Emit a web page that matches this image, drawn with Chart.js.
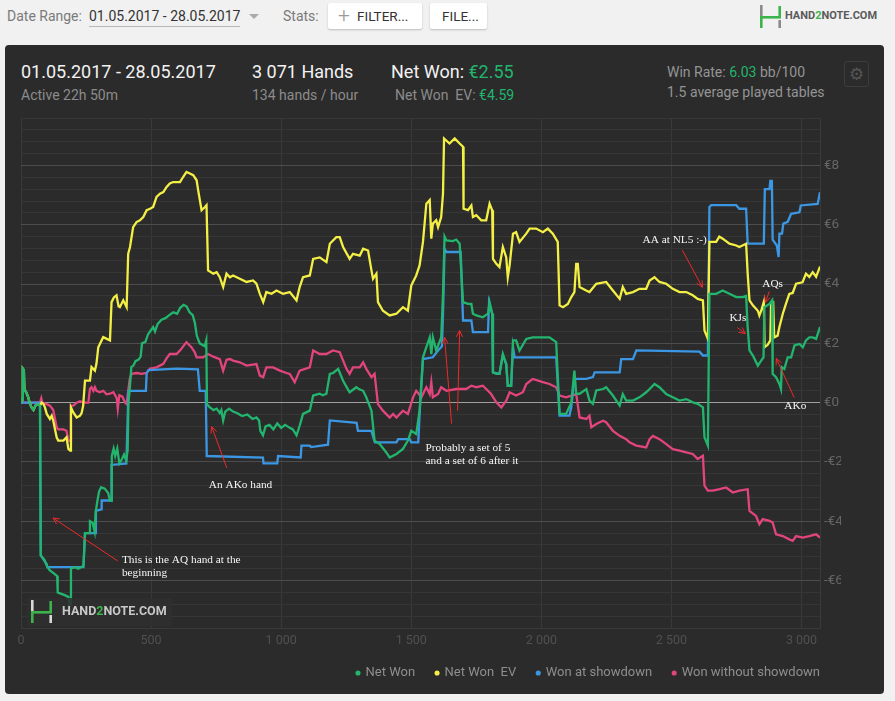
<!DOCTYPE html>
<html>
<head>
<meta charset="utf-8">
<script src="https://cdn.jsdelivr.net/npm/chart.js@4.4.1/dist/chart.umd.min.js"></script>
<style>
  html, body { margin: 0; padding: 0; }
  body { width: 895px; height: 701px; background: #f1f1f1; position: relative; overflow: hidden;
         font-family: Roboto, "Noto Sans", sans-serif; }
  .abs { position: absolute; white-space: nowrap; }
  .lbl { font-size: 14px; line-height: 18px; color: #7a7a7a; }
  .btn { background: #fff; border-radius: 2px; box-shadow: 0 1px 2px rgba(0,0,0,0.22); height: 26px; top: 3px; }
  .btn span { position: absolute; font-size: 13.5px; line-height: 26px; color: #333; }
  .panel { left: 5px; top: 45px; width: 879px; height: 649px; background: #2b2b2b; border-radius: 4px; }
  .big { font-size: 18px; line-height: 22px; color: #f2f2f2; }
  .small { font-size: 14px; line-height: 18px; color: #8c8c8c; }
  .g { color: #22b56d; }
  #wrap { position: absolute; left: 5px; top: 100px; width: 879px; height: 600px; }
</style>
</head>
<body>
<!-- top bar -->
<div class="abs lbl" style="left:7px;top:7px;">Date Range:</div>
<div class="abs lbl" style="left:89px;top:7px;height:19px;color:#333;border-bottom:1px solid #b8b8b8;">01.05.2017 - 28.05.2017</div>
<div class="abs" style="left:249px;top:14px;width:0;height:0;border-left:5px solid transparent;border-right:5px solid transparent;border-top:5px solid #aaa;"></div>
<div class="abs lbl" style="left:283px;top:7px;">Stats:</div>
<div class="abs btn" style="left:328px;width:94px;">
  <span style="left:10px;font-size:21px;font-weight:300;color:#999;line-height:25px;">+</span>
  <span style="left:29px;">FILTER...</span>
</div>
<div class="abs btn" style="left:430px;width:57px;"><span style="left:12px;">FILE...</span></div>
<canvas id="toplogo" class="abs" width="24" height="24" style="left:758px;top:4px;"></canvas>
<div class="abs" style="left:785px;top:8px;font-size:11px;line-height:16px;font-weight:700;color:#5a5a5a;">HAND<span style="color:#3cb44b;">2</span>NOTE.COM</div>

<!-- dark panel -->
<div class="abs panel"></div>
<div class="abs big" style="left:21px;top:61px;">01.05.2017 - 28.05.2017</div>
<div class="abs small" style="left:21px;top:86px;">Active 22h 50m</div>
<div class="abs big" style="left:252px;top:61px;">3 071 Hands</div>
<div class="abs small" style="left:252px;top:86px;">134 hands / hour</div>
<div class="abs big" style="left:391px;top:61px;">Net Won: <span class="g">€2.55</span></div>
<div class="abs small" style="left:395px;top:86px;">Net Won&nbsp;&nbsp;EV: <span class="g">€4.59</span></div>
<div class="abs small" style="left:667px;top:63px;color:#949494;">Win Rate: <span class="g">6.03</span> bb/100</div>
<div class="abs small" style="left:667px;top:83px;color:#949494;">1.5 average played tables</div>
<div class="abs" style="left:844px;top:61px;width:23px;height:24px;border:1px solid #3d3d3d;border-radius:3px;text-align:center;font-size:17px;line-height:24px;color:#555;font-family:'DejaVu Sans';">⚙</div>

<div id="wrap"><canvas id="chart"></canvas></div>

<script>
// series: [hand, euro]
const netWon = [
  [0,0],[4,0.1],[7,1.15],[11,1.1],[13,0.45],[20,0.35],[27,0.2],[33,0.0],[40,-0.15],[48,-0.25],[56,-0.1],[64,-0.05],[73,-0.1],
  [76,-5.15],[90,-5.3],[99,-5.5],[110,-5.65],[125,-5.75],[139,-5.85],[141,-6.4],[155,-6.45],[170,-6.5],[182,-6.55],[186,-6.85],
  [190,-6.8],[192,-5.6],[205,-5.55],[220,-5.6],[240,-5.5],[246,-4.4],[262,-4.4],[265,-4.0],[275,-4.05],[283,-4.35],[287,-3.7],
  [293,-3.35],[300,-3.0],[308,-2.85],[322,-2.9],[335,-3.05],[342,-3.3],[347,-3.3],[349,-1.8],[356,-1.55],[362,-1.8],[370,-1.55],
  [378,-2.05],[388,-1.9],[396,-1.75],[404,-1.95],[410,-1.6],[413,0.0],[418,0.45],[424,1.2],[432,1.25],[440,1.4],[452,1.45],
  [460,1.55],[465,2.0],[478,2.05],[488,2.3],[500,2.45],[508,2.55],[515,2.4],[525,2.65],[540,2.8],[555,2.85],[570,2.95],
  [585,3.05],[600,3.0],[612,3.2],[625,3.3],[636,3.25],[648,3.05],[660,2.95],[668,2.7],[676,2.25],[687,2.0],[706,1.9],[712,2.1],
  [715,-0.05],[725,-0.15],[740,-0.25],[752,-0.2],[764,-0.35],[770,-0.25],[777,-0.6],[785,-0.3],[800,-0.2],[815,-0.3],[830,-0.35],
  [850,-0.45],[870,-0.4],[890,-0.55],[905,-0.5],[915,-0.6],[920,-0.95],[930,-1.1],[940,-0.8],[955,-0.75],[970,-0.9],[985,-0.7],
  [1000,-0.85],[1015,-0.75],[1033,-0.85],[1045,-0.9],[1059,-1.1],[1071,-0.78],[1084,-0.38],[1110,-0.27],[1123,0.24],[1148,0.3],
  [1160,0.25],[1174,0.3],[1187,0.97],[1200,1.0],[1219,1.14],[1238,0.74],[1250,0.55],[1263,0.35],[1289,0.52],[1300,0.45],
  [1315,0.4],[1327,0.18],[1347,-0.27],[1359,-1.28],[1379,-1.4],[1404,-1.68],[1417,-1.85],[1443,-1.73],[1468,-1.56],[1487,-1.28],
  [1500,-0.95],[1519,-1.06],[1532,-0.27],[1545,1.53],[1558,1.87],[1571,2.2],[1577,1.64],[1583,2.2],[1596,1.76],[1615,2.2],
  [1622,3.67],[1628,5.6],[1635,5.47],[1660,5.45],[1673,5.5],[1686,5.36],[1699,3.39],[1718,3.33],[1731,3.33],[1737,3.0],
  [1750,2.94],[1775,2.88],[1795,3.0],[1801,3.39],[1811,3.0],[1814,1.02],[1827,0.97],[1839,0.97],[1852,1.64],[1865,1.3],
  [1871,0.57],[1884,0.57],[1891,2.1],[1903,2.1],[1916,1.76],[1942,2.15],[1967,2.2],[2006,2.2],[2031,2.2],[2057,2.04],
  [2070,-0.38],[2095,-0.38],[2115,0.0],[2127,1.08],[2134,0.3],[2147,0.3],[2173,0.46],[2185,0.07],[2198,-0.04],[2211,0.41],
  [2237,0.46],[2249,0.52],[2275,0.24],[2301,-0.1],[2313,0.29],[2326,0.07],[2352,0.07],[2377,0.18],[2403,0.35],[2416,0.46],
  [2435,0.63],[2454,0.52],[2480,0.29],[2505,0.18],[2531,0.07],[2557,0.12],[2582,0.01],[2601,-0.04],[2621,-0.16],[2627,-1.17],
  [2640,-1.45],[2646,3.67],[2672,3.67],[2697,3.78],[2723,3.67],[2749,3.56],[2774,3.56],[2787,3.6],[2793,2.54],[2800,1.76],
  [2813,1.59],[2832,1.25],[2845,1.42],[2854,1.53],[2857,3.22],[2877,3.33],[2887,3.45],[2889,0.97],[2902,0.86],[2915,0.63],
  [2921,0.46],[2924,1.2],[2934,1.14],[2947,1.53],[2960,1.53],[2973,1.93],[2992,1.98],[3005,1.87],[3017,2.1],[3030,2.2],
  [3043,2.2],[3056,2.15],[3071,2.55]
];

const netWonEV = [
  [0,0],[4,0.1],[7,1.15],[11,1.1],[13,0.45],[20,0.35],[27,0.2],[33,0.0],[40,-0.15],[48,-0.25],[56,-0.1],[64,-0.05],[73,-0.1],
  [79,0.0],[86,-0.04],[92,-0.16],[99,-0.38],[111,-0.55],[118,-0.44],[124,-0.61],[137,-1.17],[143,-1.28],[163,-1.28],[175,-1.17],
  [182,-1.56],[189,-1.62],[192,-0.16],[201,-0.33],[214,-0.5],[227,-0.44],[233,-0.35],[239,-0.1],[246,0.74],[265,0.74],[271,1.2],
  [284,1.08],[290,1.31],[297,1.87],[310,2.1],[316,2.21],[330,2.15],[342,2.1],[348,3.39],[357,3.55],[367,3.62],[375,3.25],
  [380,3.22],[393,3.45],[406,3.22],[412,5.02],[419,5.25],[431,5.92],[444,6.09],[457,6.15],[470,6.26],[483,6.49],[496,6.54],
  [508,6.6],[521,6.94],[534,7.05],[547,7.1],[559,7.27],[572,7.39],[585,7.44],[611,7.44],[623,7.61],[636,7.78],[649,7.73],
  [662,7.67],[675,7.5],[681,7.16],[694,6.49],[707,6.6],[713,6.66],[719,4.46],[739,4.35],[752,4.4],[764,4.23],[777,3.9],
  [790,4.35],[803,4.23],[815,4.29],[841,4.18],[867,4.07],[892,4.12],[905,4.01],[918,3.67],[931,3.39],[943,3.73],[963,3.67],
  [982,3.78],[1007,3.67],[1033,3.73],[1059,3.45],[1071,3.9],[1084,4.23],[1110,4.29],[1123,4.85],[1148,4.9],[1174,4.74],
  [1187,5.36],[1212,5.58],[1225,5.58],[1238,5.25],[1263,4.85],[1276,5.02],[1302,4.96],[1315,5.19],[1334,5.13],[1347,4.46],
  [1353,4.18],[1366,4.35],[1372,3.39],[1391,3.1],[1417,2.94],[1443,3.0],[1468,3.22],[1487,3.1],[1500,3.95],[1519,4.29],
  [1532,4.63],[1545,5.42],[1558,6.71],[1571,6.83],[1577,5.53],[1583,6.04],[1596,6.15],[1603,5.92],[1615,6.26],[1622,7.05],
  [1626,8.91],[1647,8.74],[1667,8.91],[1686,8.74],[1699,8.63],[1701,6.54],[1718,6.49],[1731,6.65],[1737,6.26],[1750,6.32],
  [1769,6.15],[1788,6.15],[1801,6.71],[1811,6.49],[1814,4.85],[1827,4.68],[1839,4.57],[1852,5.25],[1865,4.9],[1871,4.23],
  [1878,4.63],[1891,5.7],[1903,5.75],[1916,5.42],[1942,5.7],[1955,5.87],[1980,5.87],[2006,5.75],[2025,5.87],[2044,5.7],
  [2063,5.42],[2070,3.28],[2083,3.22],[2102,3.33],[2115,3.56],[2127,3.73],[2134,4.68],[2140,4.68],[2147,3.9],[2172,3.78],
  [2185,3.73],[2211,4.01],[2249,4.07],[2275,3.78],[2301,3.5],[2313,3.9],[2326,3.67],[2352,3.73],[2377,3.84],[2403,3.84],
  [2416,4.12],[2435,4.23],[2454,4.07],[2480,4.01],[2505,3.84],[2531,3.73],[2557,3.73],[2582,3.62],[2601,3.5],[2621,3.45],
  [2627,2.43],[2640,2.15],[2646,5.42],[2672,5.42],[2684,5.6],[2697,5.53],[2723,5.36],[2749,5.3],[2761,5.25],[2787,5.36],
  [2793,4.35],[2800,3.45],[2813,3.28],[2832,3.1],[2838,2.94],[2845,3.1],[2855,3.4],[2858,1.87],[2870,1.95],[2880,2.1],
  [2883,3.39],[2891,3.39],[2895,2.2],[2908,2.26],[2915,2.55],[2928,3.0],[2940,3.33],[2953,3.67],[2966,3.7],[2979,4.01],
  [3004,4.06],[3017,4.35],[3030,4.24],[3043,4.4],[3056,4.24],[3071,4.59]
];

const wonShowdown = [
  [0,0],[73,0],[76,-5.15],[99,-5.45],[101,-5.55],[240,-5.55],[246,-4.4],[286,-4.4],[288,-3.65],[308,-3.6],[310,-3.3],
  [346,-3.3],[348,-2.1],[405,-2.05],[410,-0.5],[413,0.4],[480,0.4],[483,1.0],[490,1.1],[600,1.15],[680,1.12],[687,0.4],
  [710,0.4],[714,-1.8],[930,-1.85],[932,-2.05],[985,-2.05],[988,-1.8],[1075,-1.85],[1078,-1.45],[1110,-1.45],[1115,-1.5],
  [1180,-1.42],[1187,-0.6],[1290,-0.68],[1295,-0.95],[1347,-0.95],[1360,-1.34],[1443,-1.34],[1450,-1.23],[1494,-1.23],
  [1500,-1.34],[1527,-1.34],[1532,-0.4],[1545,1.47],[1583,1.53],[1603,1.76],[1618,1.9],[1622,3.0],[1628,5.19],[1635,5.08],
  [1690,5.08],[1699,2.77],[1731,2.77],[1737,2.38],[1795,2.38],[1799,3.39],[1811,3.0],[1814,1.02],[1839,0.97],[1852,1.6],
  [1865,1.3],[1871,0.57],[1884,0.57],[1891,1.87],[1897,1.53],[2057,1.53],[2070,-0.44],[2108,-0.44],[2115,-0.15],[2127,0.8],
  [2173,0.8],[2198,0.86],[2205,1.02],[2301,1.02],[2307,1.47],[2352,1.47],[2365,1.76],[2608,1.72],[2621,1.59],[2640,1.59],
  [2646,6.6],[2653,6.66],[2749,6.66],[2761,6.54],[2787,6.54],[2793,5.36],[2855,5.36],[2859,7.2],[2877,7.2],[2880,7.48],
  [2886,7.48],[2889,5.5],[2905,5.3],[2912,4.91],[2915,5.7],[2925,5.7],[2930,6.04],[2947,6.1],[2960,6.37],[2992,6.42],
  [2997,6.65],[3062,6.7],[3071,7.1]
];

const wonNoShowdown = [
  [0,0],[73,0],[78,0.15],[82,0.0],[99,-0.05],[111,-0.1],[124,-0.25],[137,-0.83],[143,-0.9],[163,-0.9],[175,-0.95],
  [182,-1.28],[190,-1.28],[192,-0.1],[201,-0.1],[214,0.0],[227,0.05],[239,0.0],[259,0.0],[265,0.47],[271,0.52],[278,0.4],
  [284,0.52],[290,0.4],[303,0.35],[316,0.4],[329,0.28],[342,0.3],[355,0.35],[368,0.15],[372,-0.2],[378,0.25],[390,0.2],
  [400,0.0],[406,-0.05],[412,0.4],[418,0.8],[425,0.97],[445,1.0],[463,0.97],[483,1.0],[496,1.15],[521,1.19],[547,1.31],
  [560,1.5],[572,1.64],[598,1.64],[615,1.8],[636,2.04],[655,1.87],[668,1.7],[675,1.53],[700,1.53],[719,1.64],[739,1.55],
  [764,1.47],[777,1.08],[790,1.45],[803,1.47],[815,1.42],[841,1.36],[867,1.25],[905,1.3],[918,0.91],[931,0.86],[943,1.19],
  [969,1.19],[995,1.08],[1020,1.0],[1033,0.97],[1052,0.69],[1071,1.08],[1110,1.19],[1123,1.76],[1148,1.64],[1174,1.64],
  [1199,1.76],[1225,1.7],[1251,1.14],[1263,0.97],[1276,1.19],[1302,1.19],[1315,1.36],[1327,1.14],[1347,0.86],[1359,0.97],
  [1372,-0.05],[1391,-0.27],[1417,-0.5],[1430,-0.38],[1443,-0.5],[1468,-0.27],[1487,-0.38],[1507,0.18],[1519,0.4],
  [1539,0.18],[1551,0.4],[1558,0.52],[1571,0.29],[1577,0.69],[1583,0.18],[1603,0.29],[1615,0.52],[1635,0.4],[1673,0.46],
  [1711,0.46],[1731,0.57],[1750,0.52],[1775,0.57],[1788,0.46],[1807,0.29],[1827,0.01],[1846,-0.16],[1865,0.07],[1878,0.35],
  [1903,0.24],[1929,0.35],[1942,0.63],[1967,0.8],[2006,0.69],[2031,0.63],[2057,0.52],[2070,0.24],[2095,0.18],[2134,0.29],
  [2147,-0.5],[2173,-0.55],[2185,-0.44],[2192,-0.83],[2211,-0.72],[2237,-0.61],[2249,-0.66],[2275,-0.95],[2301,-1.12],
  [2326,-1.23],[2339,-1.34],[2365,-1.45],[2403,-1.51],[2416,-1.23],[2429,-1.12],[2454,-1.23],[2480,-1.4],[2505,-1.57],
  [2531,-1.62],[2557,-1.68],[2582,-1.73],[2601,-1.9],[2621,-1.79],[2627,-2.8],[2640,-2.97],[2659,-2.97],[2685,-2.92],
  [2710,-2.86],[2736,-3.03],[2761,-2.97],[2793,-2.92],[2800,-3.65],[2825,-3.82],[2838,-4.1],[2851,-3.93],[2877,-3.99],
  [2889,-4.04],[2902,-4.44],[2928,-4.5],[2953,-4.61],[2966,-4.66],[2979,-4.5],[3005,-4.55],[3030,-4.5],[3056,-4.44],
  [3071,-4.55]
];

const seriesNames = ['Net Won', 'Net Won  EV', 'Won at showdown', 'Won without showdown'];
const seriesColors = ['#22b56d', '#f3ef44', '#3b97e3', '#e2457d'];
const handTicks = [0, 500, 1000, 1500, 2000, 2500, 3000];

// hand-written notes pasted on the screenshot (hand, euro)
const notes = [
  { lines: ['This is the AQ hand at the', 'beginning'], at: [388, -5.3], arrows: [[372, -5.34, 123, -3.89]] },
  { lines: ['An AKo hand'], at: [722, -2.77], arrows: [[791, -2.2, 733, -0.81]] },
  { lines: ['Probably a set of 5', 'and a set of 6 after it'], at: [1555, -1.52],
    arrows: [[1655, -0.71, 1628, 2.2], [1678, -0.27, 1686, 2.43]] },
  { lines: ['AA at NL5 :-)'], at: [2389, 5.5], arrows: [[2542, 5.14, 2619, 3.89]] },
  { lines: ['AQs'], at: [2849, 3.99], arrows: [[2876, 3.75, 2861, 3.38]] },
  { lines: ['KJs'], at: [2723, 2.87], arrows: [[2753, 2.53, 2784, 2.33]] },
  { lines: ['AKo'], at: [2934, -0.1], arrows: [[2972, 0.17, 2903, 1.49]] }
];

function drawLogo(ctx, x, y, light) {
  const green = '#3cb44b';
  ctx.fillStyle = light; ctx.fillRect(x, y, 2.6, 11);
  ctx.fillStyle = green; ctx.fillRect(x, y + 11, 2.6, 12);
  ctx.fillRect(x, y + 11, 21, 2.6);
  ctx.fillRect(x + 18.4, y + 1, 2.6, 12);
  ctx.fillStyle = light; ctx.fillRect(x + 18.4, y + 15, 2.6, 8);
}

const tl = document.getElementById('toplogo').getContext('2d');
drawLogo(tl, 2, 1, '#8a8a8a');

const isMajor = v => Math.abs(v / 2 - Math.round(v / 2)) < 1e-6;

const overlay = {
  id: 'overlay',
  afterDatasetsDraw(chart) {
    const { ctx, chartArea: a } = chart;
    ctx.save();
    ctx.fillStyle = 'rgba(47,47,47,0.88)';
    ctx.fillRect(a.left + 6, a.bottom - 30, 145, 28);
    drawLogo(ctx, a.left + 10, a.bottom - 28, '#d8d8d8');
    ctx.font = 'bold 12.5px Roboto';
    ctx.textBaseline = 'middle';
    let tx = a.left + 41;
    const ty = a.bottom - 16;
    for (const [t, c] of [['HAND', '#c8c8c8'], ['2', '#3cb44b'], ['NOTE.COM', '#c8c8c8']]) {
      ctx.fillStyle = c; ctx.fillText(t, tx, ty); tx += ctx.measureText(t).width;
    }
    ctx.restore();
  },
  afterDraw(chart) {
    const { ctx } = chart;
    const xs = chart.scales.x, ys = chart.scales.y;
    ctx.save();
    ctx.strokeStyle = '#ee2a2a';
    ctx.lineWidth = 1;
    for (const n of notes) {
      for (const [h1, v1, h2, v2] of n.arrows) {
        const x1 = xs.getPixelForValue(h1), y1 = ys.getPixelForValue(v1);
        const x2 = xs.getPixelForValue(h2), y2 = ys.getPixelForValue(v2);
        const ang = Math.atan2(y2 - y1, x2 - x1);
        ctx.beginPath();
        ctx.moveTo(x1, y1); ctx.lineTo(x2, y2);
        for (const d of [0.45, -0.45]) {
          ctx.moveTo(x2, y2);
          ctx.lineTo(x2 - 7 * Math.cos(ang + d), y2 - 7 * Math.sin(ang + d));
        }
        ctx.stroke();
      }
      ctx.font = '11.3px "Liberation Serif"';
      ctx.textBaseline = 'middle';
      ctx.fillStyle = '#f6f6f6';
      const x = xs.getPixelForValue(n.at[0]), y = ys.getPixelForValue(n.at[1]);
      n.lines.forEach((t, i) => ctx.fillText(t, x, y + i * 13));
    }
    ctx.restore();
  }
};

const series = [netWon, netWonEV, wonShowdown, wonNoShowdown];

new Chart(document.getElementById('chart'), {
  type: 'line',
  data: {
    datasets: series.map((s, i) => ({
      label: seriesNames[i],
      data: s.map(([x, y]) => ({ x, y })),
      borderColor: seriesColors[i],
      backgroundColor: seriesColors[i],
      borderWidth: 2.3,
      pointRadius: 0,
      tension: 0
    }))
  },
  options: {
    responsive: true,
    maintainAspectRatio: false,
    animation: false,
    events: [],
    layout: { padding: { left: 16, top: 18, right: 43, bottom: 10.5 } },
    scales: {
      x: {
        type: 'linear',
        min: 0,
        max: 3071,
        grid: { color: '#393939', drawTicks: false },
        border: { color: '#393939' },
        afterBuildTicks: s => { s.ticks = handTicks.map(v => ({ value: v })); },
        ticks: {
          autoSkip: false,
          maxRotation: 0,
          padding: 5,
          color: '#505050',
          font: { family: 'Roboto', size: 12.5 },
          callback: v => String(v).replace(/\B(?=(\d{3})+(?!\d))/g, ' ')
        },
        afterFit: s => { s.height = 17.5; }
      },
      y: {
        position: 'right',
        min: -7.6,
        max: 9.6,
        grid: {
          drawTicks: false,
          color: c => Math.abs(c.tick.value) < 1e-6 ? '#a0a0a0' : (isMajor(c.tick.value) ? '#4d4d4d' : '#363636')
        },
        border: { color: '#393939' },
        ticks: {
          stepSize: 0.4,
          autoSkip: false,
          padding: 4,
          color: '#666',
          font: { family: 'Roboto', size: 13.5 },
          callback: v => {
            if (!isMajor(v)) return '';
            const n = Math.round(v);
            return n < 0 ? '-€' + (-n) : '€' + n;
          }
        },
        afterFit: s => { s.width = 21; }
      }
    },
    plugins: {
      legend: {
        position: 'bottom',
        align: 'end',
        labels: {
          usePointStyle: true,
          pointStyle: 'circle',
          boxWidth: 2,
          boxHeight: 3.6,
          padding: 21,
          color: '#8e8e8e',
          font: { family: 'Roboto', size: 13 },
          generateLabels: chart => Chart.defaults.plugins.legend.labels.generateLabels(chart)
            .map(l => ({ ...l, lineWidth: 0, strokeStyle: 'transparent' }))
        }
      },
      tooltip: { enabled: false }
    }
  },
  plugins: [overlay]
});
</script>
</body>
</html>
